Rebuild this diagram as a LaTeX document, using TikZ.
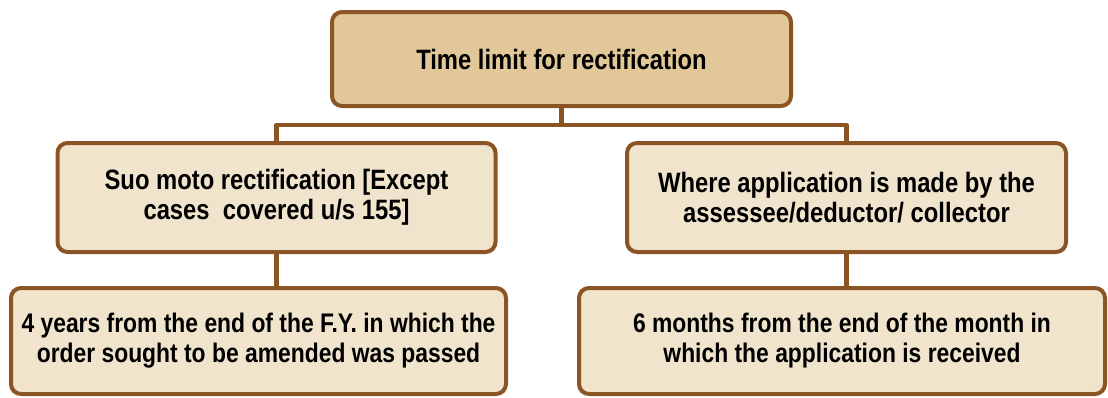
\documentclass[tikz,border=0pt]{standalone}
\usepackage{fontspec}
\setmainfont{Liberation Sans}[FakeStretch=0.85]
\definecolor{brd}{RGB}{139,84,36}
\definecolor{topfill}{RGB}{226,200,152}
\definecolor{boxfill}{RGB}{240,228,205}
\begin{document}
\begin{tikzpicture}[x=1pt,y=-1pt,
  box/.style={draw=brd, line width=4pt, rounded corners=10pt, fill=boxfill,
    align=center, inner sep=0pt,
    font=\fontsize{28}{30}\selectfont\bfseries},
  small/.style={font=\fontsize{26.9}{30}\selectfont\bfseries},
  link/.style={draw=brd, line width=4.5pt, line join=round}]
\useasboundingbox (0,0) rectangle (1108,397);
\node[box, fill=topfill, minimum width=459pt, minimum height=94pt] (top) at (561.5,59) {Time limit for rectification};
\node[box, minimum width=438pt, minimum height=109pt] (L1) at (276.5,197.5) {Suo moto rectification [Except\\cases\ \ covered u/s 155]};
\node[box, minimum width=439pt, minimum height=109pt] (R1) at (846.5,197.5) {Where application is made by the\\assessee/deductor/ collector};
\node[box, small, minimum width=495pt, minimum height=106pt] (L2) at (258.5,341) {4 years from the end of the F.Y. in which the\\order sought to be amended was passed};
\node[box, small, minimum width=526pt, minimum height=106pt] (R2) at (842,341) {6 months from the end of the month in\\which the application is received};
\coordinate (bus) at (563,125);
\draw[link] (top.south) -- (top.south |- bus);
\draw[link] (L1.north) |- (bus) -| (R1.north);
\draw[link] (L1.south) -- (L1.south |- L2.north);
\draw[link] (R1.south) -- (R1.south |- R2.north);
\end{tikzpicture}
\end{document}
